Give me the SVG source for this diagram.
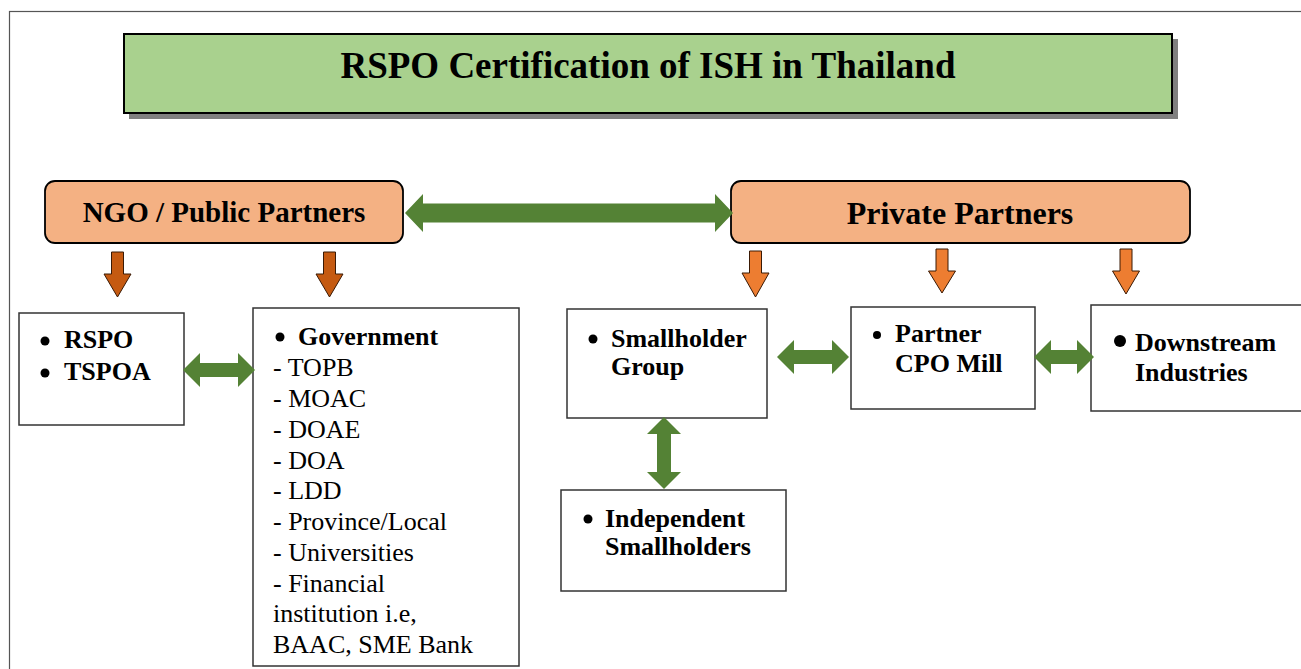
<svg xmlns="http://www.w3.org/2000/svg" width="1301" height="669" viewBox="0 0 1301 669">
  <defs>
    <style>
      .frame { fill: none; stroke: #555; stroke-width: 1.2; }
      .box { fill: #ffffff; stroke: #333; stroke-width: 1.5; }
      .head { fill: #F4B183; stroke: #000; stroke-width: 1.8; }
      .title { fill: #A9D18E; stroke: #000; stroke-width: 2; }
      .shadow { fill: #808080; }
      .link { fill: #548235; }
      .down-ngo { fill: #C55A11; stroke: #3a1a05; stroke-width: 1; }
      .down-pvt { fill: #ED7D31; stroke: #3a1a05; stroke-width: 1; }
      .dot { fill: #000; }
      text { font-family: "Liberation Serif", "Times New Roman", serif; fill: #000; }
      .b { font-weight: bold; font-size: 26px; }
      .r { font-size: 26px; }
    </style>
  </defs>

  <rect width="1301" height="669" fill="#fff"/>
  <rect class="frame" x="9.5" y="11.5" width="1310" height="680"/>

  <g id="title">
    <rect class="shadow" x="129" y="39" width="1049" height="80"/>
    <rect class="title" x="124" y="34" width="1048" height="79"/>
    <text x="648" y="78" text-anchor="middle" font-weight="bold" font-size="37">RSPO Certification of ISH in Thailand</text>
  </g>

  <g id="ngo-public">
    <rect class="head" x="45" y="181" width="358" height="62" rx="10"/>
    <text x="224" y="222" text-anchor="middle" font-weight="bold" font-size="29">NGO / Public Partners</text>
  </g>

  <g id="private">
    <rect class="head" x="731" y="181" width="459" height="62" rx="10"/>
    <text x="960" y="224" text-anchor="middle" font-weight="bold" font-size="32">Private Partners</text>
  </g>

  <g id="rspo-tspoa">
    <rect class="box" x="19" y="313" width="165" height="112"/>
    <circle class="dot" cx="45" cy="341" r="4.5"/>
    <text class="b" x="64" y="348">RSPO</text>
    <circle class="dot" cx="45" cy="373" r="4.5"/>
    <text class="b" x="64" y="380">TSPOA</text>
  </g>

  <g id="government">
    <rect class="box" x="253" y="308" width="266" height="358"/>
    <circle class="dot" cx="280" cy="337" r="4.5"/>
    <text class="b" x="298" y="345">Government</text>
    <text class="r" x="273" y="376">- TOPB</text>
    <text class="r" x="273" y="407">- MOAC</text>
    <text class="r" x="273" y="438">- DOAE</text>
    <text class="r" x="273" y="469">- DOA</text>
    <text class="r" x="273" y="499">- LDD</text>
    <text class="r" x="273" y="530">- Province/Local</text>
    <text class="r" x="273" y="561">- Universities</text>
    <text class="r" x="273" y="592">- Financial</text>
    <text class="r" x="273" y="622">institution i.e,</text>
    <text class="r" x="273" y="653">BAAC, SME Bank</text>
  </g>

  <g id="smallholder-group">
    <rect class="box" x="567" y="309" width="200" height="109"/>
    <circle class="dot" cx="593" cy="339" r="4.5"/>
    <text class="b" x="611" y="347">Smallholder</text>
    <text class="b" x="611" y="375">Group</text>
  </g>

  <g id="cpo-mill">
    <rect class="box" x="851" y="307" width="184" height="102"/>
    <circle class="dot" cx="877" cy="335" r="4"/>
    <text class="b" x="895" y="342">Partner</text>
    <text class="b" x="895" y="372">CPO Mill</text>
  </g>

  <g id="downstream">
    <rect class="box" x="1091" y="305" width="230" height="106"/>
    <circle class="dot" cx="1120" cy="341" r="6"/>
    <text class="b" x="1135" y="351">Downstream</text>
    <text class="b" x="1135" y="381">Industries</text>
  </g>

  <g id="independent">
    <rect class="box" x="561" y="490" width="225" height="101"/>
    <circle class="dot" cx="588" cy="519" r="4.5"/>
    <text class="b" x="605" y="527">Independent</text>
    <text class="b" x="605" y="555">Smallholders</text>
  </g>

  <g id="connectors">
    <!-- partner-to-partner link -->
    <path class="link" d="M405,213 L423,194 L423,203.5 L715,203.5 L715,194 L733,213 L715,232 L715,222.5 L423,222.5 L423,232 Z"/>
    <!-- box-to-box links -->
    <path class="link" d="M183,370 L200,353 L200,363 L238,363 L238,353 L255,370 L238,387 L238,377 L200,377 L200,387 Z"/>
    <path class="link" d="M777,357 L794,340 L794,350 L832,350 L832,340 L849,357 L832,374 L832,364 L794,364 L794,374 Z"/>
    <path class="link" d="M1034,357 L1051,340 L1051,350 L1077,350 L1077,340 L1094,357 L1077,374 L1077,364 L1051,364 L1051,374 Z"/>
    <path class="link" d="M664,417 L681,434 L671,434 L671,472 L681,472 L664,489 L647,472 L657,472 L657,434 L647,434 Z"/>
    <!-- downward arrows -->
    <path class="down-ngo" d="M111.5,252 L123.5,252 L123.5,274 L131,274 L117.5,297 L104,274 L111.5,274 Z"/>
    <path class="down-ngo" d="M323.5,252 L335.5,252 L335.5,274 L343,274 L329.5,297 L316,274 L323.5,274 Z"/>
    <path class="down-pvt" d="M749.5,251 L761.5,251 L761.5,273 L769,273 L755.5,297 L742,273 L749.5,273 Z"/>
    <path class="down-pvt" d="M936,249 L948,249 L948,271 L955.5,271 L942,293 L928.5,271 L936,271 Z"/>
    <path class="down-pvt" d="M1120,249 L1132,249 L1132,271 L1139.5,271 L1126,294 L1112.5,271 L1120,271 Z"/>
  </g>
</svg>
